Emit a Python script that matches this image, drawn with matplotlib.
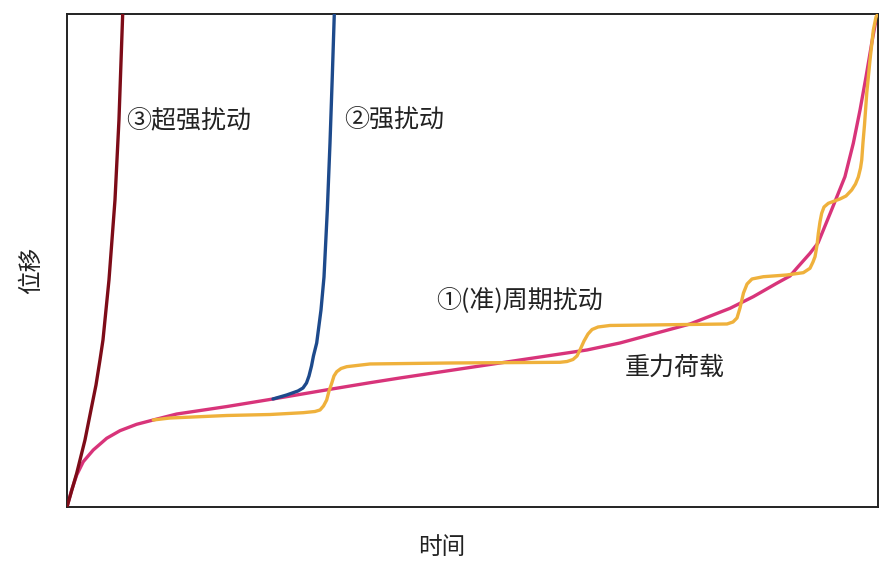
import matplotlib
matplotlib.use("Agg")
import matplotlib.pyplot as plt

plt.rcParams['font.family'] = ['Noto Sans CJK SC', 'DejaVu Sans']

# Gravity load curve (重力荷载)
gravity_t = [0, 0.58, 1.20, 2.01, 3.24, 4.90, 6.54, 8.59, 10.64, 13.53, 19.73, 25.40,
             32.43, 37.36, 41.06, 53.39, 64.12, 68.19, 76.82, 81.75, 84.62, 87.51,
             89.15, 89.97, 91.61, 92.60, 93.46, 94.32, 95.92, 96.95, 97.78, 98.52,
             99.22, 99.63, 100]
gravity_d = [0, 3.45, 6.49, 9.19, 11.56, 13.94, 15.48, 16.77, 17.65, 18.86, 20.38, 21.91,
             23.87, 25.21, 26.17, 29.21, 31.85, 33.27, 37.12, 40.30, 42.66, 45.38,
             46.86, 48.42, 51.46, 53.55, 57.00, 60.45, 67.00, 73.77, 80.53, 87.28,
             94.06, 97.77, 100]

# (Quasi-)periodic disturbance (①)
periodic_t = [10.64, 12.70, 19.73, 25.03, 29.14, 30.58, 31.20, 31.63, 32.02, 32.31,
              32.64, 32.92, 33.26, 33.79, 34.49, 37.36, 47.23, 60.79, 61.65, 62.39,
              62.88, 63.25, 63.75, 64.24, 64.74, 65.48, 66.95, 71.89, 81.38, 82.12,
              82.61, 82.98, 83.41, 83.85, 84.46, 85.86, 88.74, 90.79, 91.61, 91.98,
              92.23, 92.48, 92.64, 92.84, 93.05, 93.34, 93.87, 95.31, 96.05, 96.75,
              97.22, 97.57, 97.84, 97.99, 98.15, 98.33, 98.61, 99.01, 99.42, 99.75, 100]
periodic_d = [17.65, 18.05, 18.56, 18.76, 19.13, 19.37, 19.68, 20.49, 21.70, 23.53,
              25.09, 26.57, 27.44, 28.09, 28.46, 29.01, 29.21, 29.35, 29.51, 29.92,
              30.63, 31.85, 33.67, 35.09, 36.00, 36.51, 36.82, 36.92, 37.12, 37.53,
              38.34, 40.37, 43.41, 45.23, 46.25, 46.71, 47.06, 47.53, 48.42, 49.70,
              50.77, 53.14, 55.52, 57.81, 59.57, 60.85, 61.60, 62.48, 63.08, 64.30,
              65.52, 66.94, 68.76, 70.39, 74.04, 77.49, 83.98, 90.67, 96.75, 99.39, 100]

# Strong disturbance (②)
strong_t = [25.40, 27.09, 28.48, 29.10, 29.53, 29.84, 30.15, 30.39, 30.79, 31.32,
            31.69, 32.10, 32.43, 32.71, 32.96]
strong_d = [21.91, 22.72, 23.53, 24.14, 25.15, 26.57, 28.60, 30.63, 33.27, 39.96,
            46.65, 60.24, 73.83, 87.22, 100]

# Super-strong disturbance (③)
super_t = [0, 1.20, 2.22, 2.96, 3.58, 4.07, 4.44, 5.18, 5.92, 6.41, 6.87]
super_d = [0, 6.84, 13.59, 19.68, 24.75, 29.82, 33.87, 46.05, 62.27, 78.50, 100]

labels = ['③超强扰动', '②强扰动', '①(准)周期扰动', '重力荷载']

fig = plt.figure(figsize=(8.87, 5.71), dpi=100)
ax = fig.add_axes([0.0755, 0.1121, 0.9144, 0.8634])

lw = 2.4
kw = dict(lw=lw, solid_capstyle='round', solid_joinstyle='round')
ax.plot(gravity_t, gravity_d, color='#d8347a', zorder=2, **kw)
ax.plot(periodic_t, periodic_d, color='#efb13c', zorder=3, **kw)
ax.plot(strong_t, strong_d, color='#1d4a8c', zorder=3, **kw)
ax.plot(super_t, super_d, color='#7d0c18', zorder=3, **kw)

ax.set_xlim(0, 100)
ax.set_ylim(0, 100)
ax.set_xticks([])
ax.set_yticks([])
for s in ax.spines.values():
    s.set_linewidth(1.4)
    s.set_color('#222222')

fs = 18
ax.text(7.3, 78.5, labels[0], fontsize=fs, va='center', ha='left', color='#222222')
ax.text(34.2, 78.5, labels[1], fontsize=fs, va='center', ha='left', color='#222222')
ax.text(45.5, 42.0, labels[2], fontsize=fs, va='center', ha='left', color='#222222')
ax.text(68.7, 28.2, labels[3], fontsize=fs, va='center', ha='left', color='#222222')

fig.text(442 / 887, 1 - 548 / 571, '时间', fontsize=17, ha='center', va='center', color='#222222')
fig.text(32 / 887, 1 - 270 / 571, '位移', fontsize=17, ha='center', va='center',
         rotation=90, color='#222222')

fig.savefig('out.png', dpi=100, facecolor='white')
